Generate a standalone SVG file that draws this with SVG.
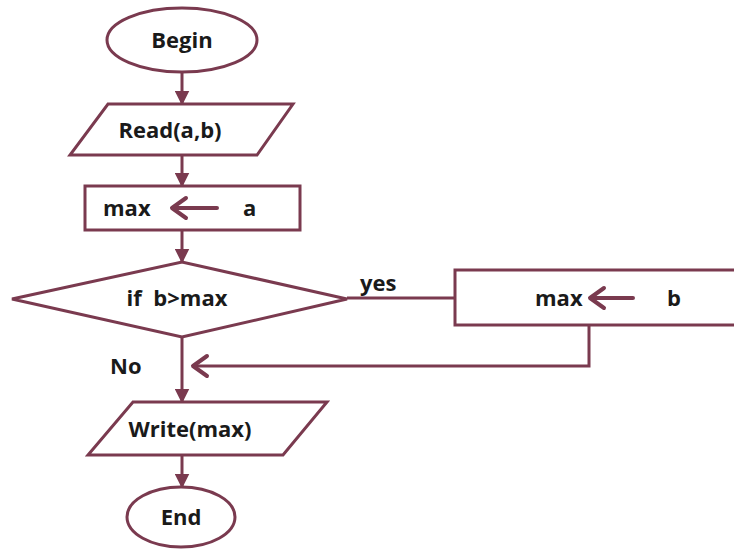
<svg xmlns="http://www.w3.org/2000/svg" width="734" height="550" viewBox="0 0 734 550">
<style>
.s{fill:#fff;stroke:#7a3a4f;stroke-width:3}
.c{fill:none;stroke:#7a3a4f;stroke-width:3}
.t{font-family:"Open Sans","DejaVu Sans",sans-serif;font-weight:bold;font-size:22px;fill:#1a1a1a}
.ar{fill:none;stroke:#7a3a4f;stroke-width:4;stroke-linecap:round;stroke-linejoin:round}
</style>
<defs>
<marker id="h" viewBox="0 0 10 10" refX="9" refY="5" markerWidth="5" markerHeight="5" orient="auto" markerUnits="strokeWidth">
<path d="M0,0L10,5L0,10z" fill="#7a3a4f"/>
</marker>
</defs>
<rect width="734" height="550" fill="#fff"/>
<g id="connectors">
<path class="c" d="M182,72V104" marker-end="url(#h)"/>
<path class="c" d="M182,155V186" marker-end="url(#h)"/>
<path class="c" d="M182,230V262" marker-end="url(#h)"/>
<path class="c" d="M347,298H455"/>
<path class="c" d="M182,337V402" marker-end="url(#h)"/>
<path class="c" d="M589,325V366H194"/>
<path class="ar" d="M207,356L193,366L207,376"/>
<path class="c" d="M182,455V487" marker-end="url(#h)"/>
<text class="t" x="360" y="291">yes</text>
<text class="t" x="110" y="374">No</text>
</g>
<g id="begin">
<ellipse class="s" cx="182" cy="40" rx="75" ry="32"/>
<text class="t" x="182" y="48" text-anchor="middle">Begin</text>
</g>
<g id="read">
<polygon class="s" points="108,104 293,104 257,155 70,155"/>
<text class="t" x="170" y="138" text-anchor="middle">Read(a,b)</text>
</g>
<g id="assign-a">
<rect class="s" x="85" y="186" width="215" height="44"/>
<text class="t" x="103" y="216">max</text>
<path class="ar" d="M217,208H172M186,198L172,208L186,218"/>
<text class="t" x="243" y="216">a</text>
</g>
<g id="decision">
<polygon class="s" points="12,299 182,262 347,299 182,337"/>
<text class="t" x="177" y="306" text-anchor="middle">if&#160; b&gt;max</text>
</g>
<g id="assign-b">
<rect class="s" x="455" y="270" width="290" height="55"/>
<text class="t" x="535" y="306">max</text>
<path class="ar" d="M633,298H590M604,288L590,298L604,308"/>
<text class="t" x="667" y="306">b</text>
</g>
<g id="write">
<polygon class="s" points="133,402 327,402 283,455 88,455"/>
<text class="t" x="190" y="437" text-anchor="middle">Write(max)</text>
</g>
<g id="end">
<ellipse class="s" cx="181" cy="517" rx="54" ry="30"/>
<text class="t" x="181" y="525" text-anchor="middle">End</text>
</g>
</svg>
